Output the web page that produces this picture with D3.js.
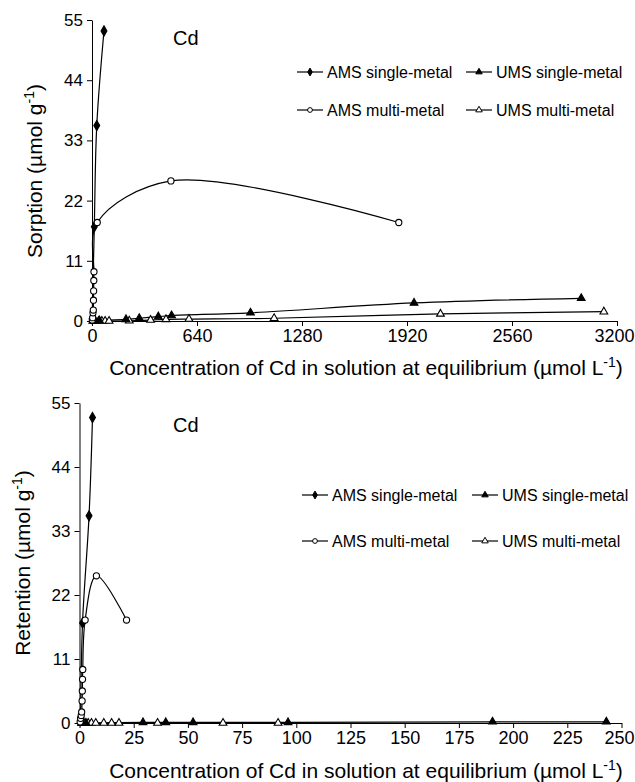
<!DOCTYPE html>
<html>
<head>
<meta charset="utf-8">
<script src="https://cdn.jsdelivr.net/npm/d3@7"></script>
<style>
  html, body { margin: 0; padding: 0; background: #fff; }
  svg { display: block; font-family: "Liberation Sans", Arial, sans-serif; }
</style>
</head>
<body>
<svg id="chart" width="635" height="782"></svg>
<script>
// ---------- DATA ----------
const seriesNames = ["AMS single-metal", "UMS single-metal", "AMS multi-metal", "UMS multi-metal"];
const yTicks = [0, 11, 22, 33, 44, 55];
const topXTicks = [0, 640, 1280, 1920, 2560, 3200];
const bottomXTicks = [0, 25, 50, 75, 100, 125, 150, 175, 200, 225, 250];

// Top panel: Sorption
const topAmsSingleX = [1, 14, 29, 73];
const topAmsSingleY = [0.4, 17.2, 35.7, 53.0];
const topAmsMultiX = [2, 4, 6, 8, 9, 10, 11, 12, 32, 481, 1870];
const topAmsMultiY = [0.2, 0.6, 1.5, 2.0, 3.8, 5.5, 7.4, 9.0, 18.0, 25.6, 18.0];
const topUmsSingleX = [5, 20, 45, 207, 288, 404, 485, 966, 1963, 2982];
const topUmsSingleY = [0, 0.05, 0.1, 0.3, 0.5, 0.8, 1.0, 1.5, 3.3, 4.15];
const topUmsMultiX = [15, 40, 60, 80, 104, 227, 357, 451, 591, 1110, 2124, 3120];
const topUmsMultiY = [0, 0, 0, 0, 0, 0.05, 0.18, 0.3, 0.36, 0.5, 1.3, 1.7];

// Bottom panel: Retention
const botAmsSingleX = [0.5, 1.4, 4.4, 6.0];
const botAmsSingleY = [0.4, 17.2, 35.6, 52.5];
const botAmsMultiX = [0.3, 0.5, 0.8, 1.0, 1.2, 1.3, 1.4, 1.5, 2.6, 7.8, 21.7];
const botAmsMultiY = [0.2, 0.8, 1.3, 1.9, 3.8, 5.5, 7.5, 9.2, 17.7, 25.3, 17.7];
const botUmsSingleX = [1, 3, 29.3, 39.8, 52.4, 96.2, 190.5, 243];
const botUmsSingleY = [0, 0, 0.1, 0.1, 0.1, 0.1, 0.2, 0.2];
const botUmsMultiX = [1, 2.5, 4, 5.5, 7.5, 11.2, 14.8, 18.2, 36, 66.2, 91.6];
const botUmsMultiY = [0, 0, 0, 0, 0, 0, 0, 0, 0, 0, 0];

// ---------- DRAW ----------
const svg = d3.select("#chart");
const FONT_TICK_X = 18, FONT_TICK_Y = 17, FONT_TITLE = 21, FONT_LEG = 16;

const markerType = {
  "AMS single-metal": { sym: d3.symbolDiamond, fill: "#000" },
  "UMS single-metal": { sym: d3.symbolTriangle, fill: "#000" },
  "AMS multi-metal": { sym: d3.symbolCircle, fill: "#fff" },
  "UMS multi-metal": { sym: d3.symbolTriangle, fill: "#fff" }
};
const markerSize = { "AMS single-metal": 30, "UMS single-metal": 26, "AMS multi-metal": 30, "UMS multi-metal": 26 };

function zip(xs, ys) { return xs.map((x, i) => [x, ys[i]]); }

function panel(cfg) {
  const x = d3.scaleLinear().domain(cfg.xDomain).range(cfg.xRange);
  const y = d3.scaleLinear().domain([0, 55]).range(cfg.yRange);
  const g = svg.append("g");

  // axes
  const yAxis = d3.axisLeft(y).tickValues(yTicks).tickFormat(d3.format("d"))
    .tickSize(5).tickSizeOuter(0).tickPadding(4);
  const gy = g.append("g").attr("transform", `translate(${cfg.xRange[0]},0)`).call(yAxis);
  gy.selectAll("text").style("font-size", FONT_TICK_Y + "px").attr("fill", "#000");
  const xAxis = d3.axisBottom(x).tickValues(cfg.xTicks).tickFormat(d3.format("d"))
    .tickSize(5).tickSizeOuter(0).tickPadding(3);
  const gx = g.append("g").attr("transform", `translate(0,${cfg.yRange[0]})`).call(xAxis);
  gx.selectAll("text").style("font-size", FONT_TICK_X + "px").attr("fill", "#000");
  // keep the last tick label inside the page
  const lastLbl = gx.selectAll(".tick text").filter((d, i, n) => i === n.length - 1);
  lastLbl.attr("text-anchor", "end").attr("dx", null)
    .attr("x", 634 - cfg.xRange[1]);
  g.selectAll(".domain, .tick line").attr("stroke", "#000").attr("stroke-width", 1);
  g.selectAll(".tick text").attr("font-family", null);

  // lines
  const line = d3.line().x(d => x(d[0])).y(d => y(d[1])).curve(d3.curveCatmullRom.alpha(0.5));
  const order = ["UMS multi-metal", "UMS single-metal", "AMS single-metal", "AMS multi-metal"];
  order.forEach(name => {
    const pts = cfg.data[name];
    g.append("path").datum(pts).attr("d", line)
      .attr("fill", "none").attr("stroke", "#000").attr("stroke-width", 1.2);
  });
  order.forEach(name => {
    const pts = cfg.data[name];
    const m = markerType[name];
    g.selectAll(null).data(pts).enter().append("path")
      .attr("d", d3.symbol().type(m.sym).size(markerSize[name]))
      .attr("transform", d => `translate(${x(d[0])},${y(d[1])})`)
      .attr("fill", m.fill).attr("stroke", "#000").attr("stroke-width", 1.1);
  });

  // "Cd" label
  g.append("text").attr("x", cfg.cdPos[0]).attr("y", cfg.cdPos[1])
    .style("font-size", "20px").text("Cd");

  // y title
  const yt = g.append("text")
    .attr("transform", `translate(${cfg.yTitlePos[0]},${cfg.yTitlePos[1]}) rotate(-90)`)
    .attr("text-anchor", "middle").style("font-size", FONT_TITLE + "px");
  yt.append("tspan").text(cfg.yTitle + " (µmol g");
  yt.append("tspan").attr("dy", -8).style("font-size", "14px").text("-1");
  yt.append("tspan").attr("dy", 8).text(")");

  // x title
  const xt = g.append("text").attr("x", 366).attr("y", cfg.xTitleY)
    .attr("text-anchor", "middle").style("font-size", FONT_TITLE + "px");
  xt.append("tspan").text("Concentration of Cd in solution at equilibrium (µmol L");
  xt.append("tspan").attr("dy", -8).style("font-size", "14px").text("-1");
  xt.append("tspan").attr("dy", 8).text(")");

  // legend
  const legItems = [
    { name: "AMS single-metal", col: 0, row: 0 },
    { name: "UMS single-metal", col: 1, row: 0 },
    { name: "AMS multi-metal", col: 0, row: 1 },
    { name: "UMS multi-metal", col: 1, row: 1 }
  ];
  legItems.forEach(it => {
    const lx = cfg.legCols[it.col], ly = cfg.legRows[it.row];
    const lg = g.append("g");
    lg.append("line").attr("x1", lx).attr("x2", lx + 26).attr("y1", ly).attr("y2", ly)
      .attr("stroke", "#000").attr("stroke-width", 1.2);
    const m = markerType[it.name];
    lg.append("path").attr("d", d3.symbol().type(m.sym).size(18))
      .attr("transform", `translate(${lx + 13},${ly})`)
      .attr("fill", m.fill).attr("stroke", "#000").attr("stroke-width", 1);
    lg.append("text").attr("x", lx + 30).attr("y", ly).attr("dy", "0.35em")
      .style("font-size", FONT_LEG + "px").text(it.name);
  });
}

panel({
  xDomain: [0, 3200], xRange: [92, 617], yRange: [321, 20], xTicks: topXTicks,
  data: {
    "AMS single-metal": zip(topAmsSingleX, topAmsSingleY),
    "UMS single-metal": zip(topUmsSingleX, topUmsSingleY),
    "AMS multi-metal": zip(topAmsMultiX, topAmsMultiY),
    "UMS multi-metal": zip(topUmsMultiX, topUmsMultiY)
  },
  cdPos: [173, 45], yTitle: "Sorption", yTitlePos: [42, 171], xTitleY: 375,
  legCols: [297, 466], legRows: [72, 110]
});

panel({
  xDomain: [0, 250], xRange: [79.5, 621.5], yRange: [723, 403], xTicks: bottomXTicks,
  data: {
    "AMS single-metal": zip(botAmsSingleX, botAmsSingleY),
    "UMS single-metal": zip(botUmsSingleX, botUmsSingleY),
    "AMS multi-metal": zip(botAmsMultiX, botAmsMultiY),
    "UMS multi-metal": zip(botUmsMultiX, botUmsMultiY)
  },
  cdPos: [173, 432], yTitle: "Retention", yTitlePos: [30, 563], xTitleY: 778,
  legCols: [302, 472], legRows: [495, 541]
});
</script>
</body>
</html>
